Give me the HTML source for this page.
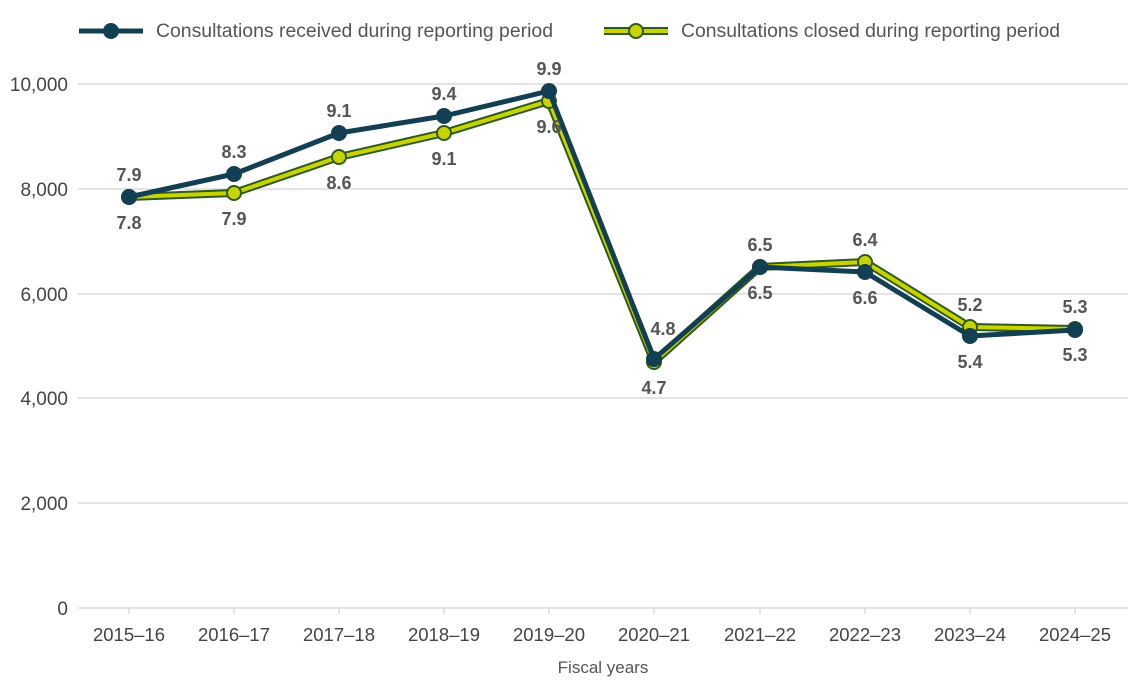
<!DOCTYPE html>
<html><head><meta charset="utf-8"><style>
body{margin:0;background:#fff}
svg{display:block;font-family:"Liberation Sans",sans-serif}
</style></head><body>
<svg width="1141" height="686" viewBox="0 0 1141 686">
<g stroke="#c8c8c8" stroke-width="1">
<line x1="78" y1="84" x2="1128" y2="84"/><line x1="78" y1="189" x2="1128" y2="189"/>
<line x1="78" y1="294" x2="1128" y2="294"/><line x1="78" y1="398" x2="1128" y2="398"/>
<line x1="78" y1="503" x2="1128" y2="503"/><line x1="78" y1="608" x2="1128" y2="608"/>
</g>
<g stroke="#c8c8c8"><line x1="129" y1="608" x2="129" y2="614"/><line x1="234" y1="608" x2="234" y2="614"/><line x1="339" y1="608" x2="339" y2="614"/><line x1="444" y1="608" x2="444" y2="614"/><line x1="549" y1="608" x2="549" y2="614"/><line x1="654" y1="608" x2="654" y2="614"/><line x1="760" y1="608" x2="760" y2="614"/><line x1="865" y1="608" x2="865" y2="614"/><line x1="970" y1="608" x2="970" y2="614"/><line x1="1075" y1="608" x2="1075" y2="614"/></g>
<g font-size="19" fill="#444" text-anchor="end">
<text x="68" y="91">10,000</text><text x="68" y="196">8,000</text><text x="68" y="301">6,000</text>
<text x="68" y="405">4,000</text><text x="68" y="510">2,000</text><text x="68" y="615">0</text>
</g>
<g font-size="18.5" fill="#444" text-anchor="middle">
<text x="129" y="641">2015–16</text><text x="234" y="641">2016–17</text><text x="339" y="641">2017–18</text><text x="444" y="641">2018–19</text><text x="549" y="641">2019–20</text><text x="654" y="641">2020–21</text><text x="760" y="641">2021–22</text><text x="865" y="641">2022–23</text><text x="970" y="641">2023–24</text><text x="1075" y="641">2024–25</text>
<text x="603" y="673" font-size="17" fill="#555">Fiscal years</text>
</g>
<polyline fill="none" stroke="#2f5a1a" stroke-width="8" stroke-linejoin="round" points="129,197 234,193 339,157 444,133 549,101 654,362 760,267 865,262 970,327 1075,329"/>
<polyline fill="none" stroke="#c8d400" stroke-width="4" stroke-linejoin="round" points="129,197 234,193 339,157 444,133 549,101 654,362 760,267 865,262 970,327 1075,329"/>
<g fill="#c8d400" stroke="#2f5a1a" stroke-width="2">
<circle cx="129" cy="197" r="7"/><circle cx="234" cy="193" r="7"/><circle cx="339" cy="157" r="7"/><circle cx="444" cy="133" r="7"/><circle cx="549" cy="101" r="7"/><circle cx="654" cy="362" r="7"/><circle cx="760" cy="267" r="7"/><circle cx="865" cy="262" r="7"/><circle cx="970" cy="327" r="7"/><circle cx="1075" cy="329" r="7"/>
</g>
<polyline fill="none" stroke="#133f52" stroke-width="5" stroke-linejoin="round" points="129,197 234,174 339,133 444,116 549,91 654,359 760,267 865,272 970,336 1075,330"/>
<g fill="#133f52">
<circle cx="129" cy="197" r="8"/><circle cx="234" cy="174" r="8"/><circle cx="339" cy="133" r="8"/><circle cx="444" cy="116" r="8"/><circle cx="549" cy="91" r="8"/><circle cx="654" cy="359" r="8"/><circle cx="760" cy="267" r="8"/><circle cx="865" cy="272" r="8"/><circle cx="970" cy="336" r="8"/><circle cx="1075" cy="330" r="8"/>
</g>
<g font-size="18" font-weight="bold" fill="#555" text-anchor="middle">
<text x="129" y="181">7.9</text><text x="129" y="229">7.8</text>
<text x="234" y="158">8.3</text><text x="234" y="225">7.9</text>
<text x="339" y="117">9.1</text><text x="339" y="189">8.6</text>
<text x="444" y="100">9.4</text><text x="444" y="165">9.1</text>
<text x="549" y="75">9.9</text><text x="549" y="133">9.6</text>
<text x="663" y="335">4.8</text><text x="654" y="394">4.7</text>
<text x="760" y="251">6.5</text><text x="760" y="299">6.5</text>
<text x="865" y="246">6.4</text><text x="865" y="304">6.6</text>
<text x="970" y="311">5.2</text><text x="970" y="368">5.4</text>
<text x="1075" y="313">5.3</text><text x="1075" y="361">5.3</text>
</g>
<line x1="79" y1="31" x2="143" y2="31" stroke="#133f52" stroke-width="5"/>
<circle cx="111" cy="31" r="8" fill="#133f52"/>
<text x="156" y="37" font-size="19" fill="#555" textLength="397" lengthAdjust="spacingAndGlyphs">Consultations received during reporting period</text>
<line x1="604" y1="31" x2="668" y2="31" stroke="#2f5a1a" stroke-width="8"/>
<line x1="604" y1="31" x2="668" y2="31" stroke="#c8d400" stroke-width="4"/>
<circle cx="636" cy="31" r="7" fill="#c8d400" stroke="#2f5a1a" stroke-width="2"/>
<text x="681" y="37" font-size="19" fill="#555" textLength="379" lengthAdjust="spacingAndGlyphs">Consultations closed during reporting period</text>
</svg>
</body></html>
